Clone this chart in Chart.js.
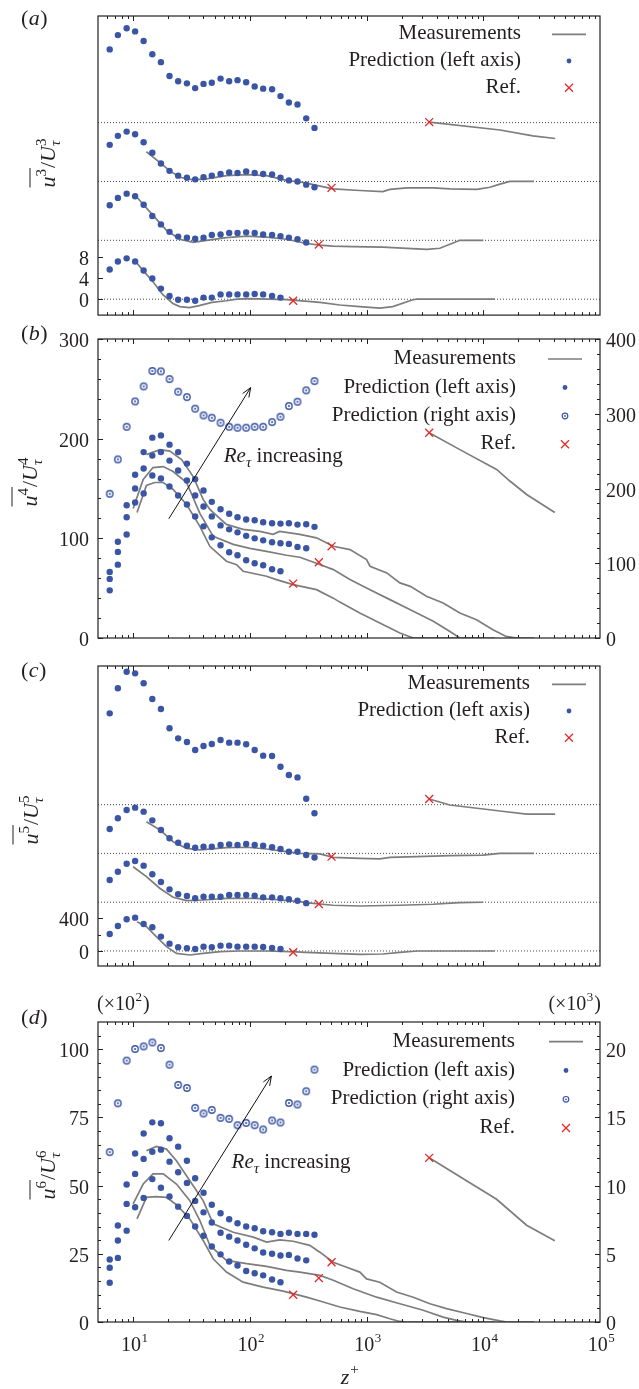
<!DOCTYPE html>
<html><head><meta charset="utf-8">
<script src="https://cdn.jsdelivr.net/npm/chart.js@4.4.1/dist/chart.umd.min.js"></script>
<style>
html,body{margin:0;padding:0;background:#fff;}
#wrap{position:relative;width:639px;height:1389px;background:#fff;overflow:hidden}
#wrap canvas{position:absolute;left:0}
</style></head><body>
<div id="wrap">
<canvas id="cA" width="639" height="322" style="top:0px"></canvas>
<canvas id="cB" width="639" height="328" style="top:322px"></canvas>
<canvas id="cC" width="639" height="330" style="top:650px"></canvas>
<canvas id="cD" width="639" height="409" style="top:980px"></canvas>
</div>
<script>
// ---------------- DATA ----------------
const zPred = [6.3, 7.4, 8.8, 10.4, 12.3, 14.6, 17.3, 20.5, 24.3, 28.9, 34.0, 40.1, 47.2, 56.1, 66.5, 78.4, 93.0, 110, 130, 155, 183, 216, 256, 304, 358];
const zRef = [235, 390, 501, 3440];

// (a) third moment, curves shifted by offsets
const aOffsets = [0, 11.1, 22.2, 33.3];
const aPred0 = [5.6, 7.1, 7.7, 7.1, 5.4, 3.9, 2.0, 0.6, -0.1, -0.1, -0.3, 0.3, 0.3, 0.9, 0.9, 0.9, 0.9, 1.0, 0.9, 0.6, 0.3];
const aPred1 = [6.6, 8.0, 8.8, 8.3, 6.7, 4.6, 3.0, 1.6, 0.7, 0.5, 0.3, 0.5, 1.0, 1.1, 1.4, 1.4, 1.5, 1.4, 1.1, 1.0, 0.8, 0.5, 0.2, -0.4];
const aPred2 = [6.9, 8.6, 9.4, 8.9, 7.4, 5.4, 3.4, 2.0, 1.1, 0.7, 0.4, 0.8, 1.1, 1.4, 1.7, 1.6, 1.9, 1.6, 1.4, 1.3, 0.7, 0.2, 0.0, -0.6, -1.1];
const aPred3 = [13.8, 16.5, 17.8, 17.2, 15.4, 12.9, 11.4, 8.8, 7.8, 7.4, 6.5, 7.3, 7.5, 8.3, 7.8, 8.0, 7.6, 6.8, 6.4, 6.3, 5.0, 3.8, 3.4, 0.8, -1.0];
const aRef = [-0.3, -0.8, -1.2, 0.1];
const aMeas0 = [[10.4,7.2],[12.3,5.3],[14.8,3.3],[17.9,0.9],[21.9,-0.8],[25.1,-1.4],[30.4,-1.6],[36.8,-1.2],[47.3,-0.6],[63,-0.3],[78,0],[100,0.1],[206,-0.1],[355,-0.5],[398,-0.6],[590,-1.1],[875,-1.4],[1298,-1.7],[1678,-1.4],[2490,-0.1],[2720,0],[12570,0]];
const aMeas1 = [[10.4,8.5],[14.8,4.7],[19.3,1.9],[25.1,0.2],[32.7,-0.4],[42.6,0.0],[63,0.5],[94,0.8],[139,0.6],[206,0.2],[306,-0.6],[398,-0.9],[514,-1.1],[763,-1.2],[1378,-1.3],[3283,-1.7],[4244,-1.5],[6300,0],[10000,0]];
const aMeas2 = [[13.0,5.6],[17.3,3.4],[20.6,2.0],[25.1,0.8],[32.7,0.3],[42.6,0.5],[63,1.1],[94,1.3],[139,1.1],[206,0.2],[268,-0.1],[306,-0.3],[514,-1.4],[875,-1.7],[1378,-1.9],[1585,-1.5],[2213,-1.2],[3700,-1.2],[5180,-1.4],[8810,-1.5],[11400,-1.1],[13900,-0.5],[16900,0],[27200,0]];
const aMeas3 = [[3440,0.1],[13900,-1.4],[26600,-2.5],[41300,-3.0]];

// (b) fourth moment
const bPred0 = [47.8, 73.6, 103.8, 136, 145, 163, 160, 152, 143, 134, 122, 112, 101, 93, 86, 83, 78, 75, 73, 69, 67];
const bPred1 = [59.3, 86.4, 121.2, 150, 170, 183, 186.5, 178, 168, 158, 143, 132, 122, 113, 109, 106, 102.5, 100, 98, 96, 95, 94.4, 91.4, 90];
const bPred2 = [66.3, 96.5, 133.2, 163.8, 186.5, 201, 203.3, 194, 186.5, 175, 159.4, 148, 136.6, 129.2, 124.6, 121.2, 118.9, 118.2, 116.2, 115.2, 114.8, 115.2, 113.8, 114.1, 111.5];
const bPredRight = [192.9, 238.9, 282.6, 316.5, 336.6, 357.2, 356.7, 346.4, 329.5, 322.3, 306.8, 297.8, 294.7, 288, 282.6, 281.3, 281.3, 282.6, 282.6, 288.8, 296, 310.3, 316.1, 331.3, 343.7];
const bRefLeft = [54.6, 76, 92];
const bRefRight = [274.6];
const bMeas0 = [[10.8,126],[13.0,153],[15.3,156],[18.1,156],[22,149],[28.7,134],[37.3,112],[45.4,92],[63,77],[77,73.6],[87.6,67],[139,62],[169,58.6],[235,53.6],[372,48.5],[519,40],[590,36],[875,25],[1298,15],[1930,5],[2510,0],[12570,0]];
const bMeas1 = [[10.0,130],[12.2,159],[14.8,171],[18.1,172],[22,167],[28.7,156],[37.3,125],[48.5,102],[72,94],[100,90],[139,87],[206,83],[268,81],[372,75],[519,68.6],[720,58.6],[1070,48.5],[1585,38.5],[2370,28.4],[3730,16.7],[5180,6.6],[6300,0],[10000,0]];
const bMeas2 = [[13.0,184],[17,189],[20.6,187.5],[26,179],[32.7,162],[39.8,139],[45.4,129],[63,114],[87.6,109],[122,107],[158,104],[180,107],[268,104],[372,100.5],[519,92],[720,88.7],[1000,78.7],[1070,72],[1490,65.3],[1930,55.3],[2370,51.8],[3260,41.8],[4530,35.2],[6300,25.1],[8750,18.4],[12100,8.3],[15700,1.6],[19300,0],[27200,0]];
const bMeas3 = [[3440,274.6],[6300,252],[13000,225.5],[16900,210],[23500,192],[41000,168]];

// (c) fifth moment, curves shifted by offsets
const cOffsets = [0, 597, 1195, 1792];
const cPred0 = [208, 306, 388, 408, 331, 290, 176, 90, 45, 33, 24, 53, 45, 65, 65, 53, 53, 53, 49, 37, 24];
const cPred1 = [272, 374, 472, 505, 448, 342, 248, 158, 97, 76, 48, 68, 68, 68, 89, 89, 89, 80, 60, 60, 48, 36, 19, -11];
const cPred2 = [299, 430, 531, 560, 511, 405, 287, 185, 131, 94, 70, 82, 82, 103, 111, 103, 115, 103, 94, 75, 54, 21, 21, -20, -50];
const cPred3 = [1118, 1425, 1628, 1608, 1486, 1294, 1171, 935, 812, 767, 669, 718, 743, 792, 759, 759, 739, 669, 600, 596, 465, 363, 334, 73, -106];
const cRef = [-16, -22, -40, 69];
const cMeas0 = [[10.8,359],[13,298],[15.8,176],[19.3,53],[23.5,-29],[30.6,-49],[39.8,-29],[56,-8],[80,0],[140,0],[250,-12],[300,-16],[514,-29],[875,-41],[1378,-37],[1930,-16],[2720,0],[12570,0]];
const cMeas1 = [[10.0,435],[13,313],[16.9,171],[22,60],[28.7,19],[40,27],[63,48],[110,48],[160,36],[268,8],[300,-5],[514,-37],[875,-46],[1930,-37],[3700,-25],[6300,-5],[10000,0]];
const cMeas2 = [[13,388],[17,287],[22,143],[28.7,62],[37.3,42],[63,70],[94,75],[139,54],[206,21],[268,1],[398,-7],[519,-48],[875,-60],[1298,-68],[1585,-48],[2680,-40],[5180,-28],[10000,-20],[13900,0],[27200,0]];
const cMeas3 = [[3440,69],[5180,-4],[13900,-78],[23500,-115],[41300,-115]];

// (d) sixth moment (left axis x10^2, right axis x10^3)
const dPred0 = [14.4, 23.5, 33.5, 42.1, 45.5, 52.4, 49.2, 46.0, 42.3, 38.9, 35.0, 31.6, 27.7, 24.8, 22.2, 20.7, 18.7, 17.9, 17.1, 15.6, 14.6];
const dPred1 = [19.9, 29.9, 43.3, 54.3, 59.8, 62.4, 63.2, 58.8, 54.9, 51.0, 44.4, 40.2, 36.5, 32.7, 31.3, 29.9, 28.3, 27.0, 25.5, 25.0, 24.4, 24.6, 23.3, 22.6];
const dPred2 = [22.9, 35.4, 50.4, 61.8, 69.1, 73.2, 72.9, 67.4, 64.3, 59.1, 52.7, 47.4, 43.0, 39.9, 37.7, 36.2, 35.0, 34.4, 33.3, 32.9, 32.3, 32.7, 32.3, 32.3, 32.0];
const dPredRight = [12.46, 16.04, 19.17, 20.02, 20.21, 20.5, 20.09, 18.87, 17.38, 17.16, 15.7, 15.29, 15.55, 14.97, 14.9, 14.43, 14.6, 14.43, 14.12, 14.78, 14.63, 16.06, 15.95, 16.92, 18.51];
const dRefLeft = [10.0, 16.1, 21.9];
const dRefRight = [12.04];
const dMeas0 = [[10.8,37.8],[13,45.7],[15.8,46],[19.3,45.7],[23.5,43],[30.6,37.8],[39.8,29.9],[48.5,23.2],[63,18.3],[87.6,14.6],[130,12.8],[193,11.3],[306,9.1],[398,7.7],[590,5.5],[875,3.9],[1219,2.7],[1585,1.2],[1930,0.2],[2200,0],[12570,0]];
const dMeas1 = [[10,43.3],[12.2,50.6],[14.8,54.3],[18.1,54.3],[23.5,50.6],[30.6,44.5],[37.3,37.2],[45.4,28.1],[63,22.6],[94,21.4],[139,20.4],[206,18.9],[268,18.3],[398,17.1],[518,15.3],[767,12.2],[1219,9.1],[1930,6.7],[3055,4.3],[4530,1.8],[5900,0.6],[7195,0],[10000,0]];
const dMeas2 = [[13,62.8],[15.8,64.4],[19.3,63.4],[23.5,59.1],[30.6,51.8],[39.8,44.5],[48.5,36],[72,32.9],[107,31.1],[139,29.3],[180,30.1],[235,29.6],[326,28.1],[398,25.6],[518,21.9],[675,20.1],[875,18.3],[1000,15.8],[1298,14.6],[1807,11.0],[2512,9.1],[3490,6.7],[4850,4.9],[7195,3.1],[10000,1.6],[13900,0.4],[15800,0],[27200,0]];
const dMeas3 = [[3440,12.04],[13000,9.0],[23500,7.1],[41000,5.95]];

// tick labels
const aYTicks = [0, 4, 8];
const bYTicks = [0, 100, 200, 300];
const bY2Ticks = [0, 100, 200, 300, 400];
const cYTicks = [0, 400];
const dYTicks = [0, 25, 50, 75, 100];
const dY2Ticks = [0, 5, 10, 15, 20];
const xDecades = [1, 2, 3, 4, 5];

// annotation positions (data coordinates)
const bArrow = [[20.2, 119.6], [101.6, 251.2]];
const bArrowText = [59.8, 177];
const dArrow = [[20.2, 29.9], [153, 90.2]];
const dArrowText = [69.7, 56.5];

// ---------------- STYLE ----------------
const BLUE = '#3b55a5', RED = '#e62828', GREY = '#7d7d7d', INK = '#231f20';
const SERIF = '"Liberation Serif", "Times New Roman", serif';

function pts(ys, off) { return ys.map((v, i) => ({ x: zPred[i], y: v + (off || 0) })); }
function refPts(ys, idx, off) { return ys.map((v, i) => ({ x: zRef[idx[i]], y: v + ((off && off[idx[i]]) || 0) })); }
function pairs(arr, off) { return arr.map(p => ({ x: p[0], y: p[1] + (off || 0) })); }

function ringImg(r, lw, dot) {
  const c = document.createElement('canvas');
  const s = Math.ceil(2 * r + lw + 2);
  c.width = c.height = s;
  const g = c.getContext('2d');
  g.strokeStyle = BLUE; g.lineWidth = lw;
  g.beginPath(); g.arc(s / 2, s / 2, r, 0, 2 * Math.PI); g.stroke();
  g.fillStyle = BLUE; g.beginPath(); g.arc(s / 2, s / 2, dot, 0, 2 * Math.PI); g.fill();
  return c;
}
const RING = ringImg(3.2, 1.4, 1.1);

function dsLine(data, axis) { return { data, yAxisID: axis || 'y', borderColor: GREY, borderWidth: 1.7, pointRadius: 0, fill: false, tension: 0, order: 3 }; }
function dsDots(data, axis) { return { data, yAxisID: axis || 'y', showLine: false, backgroundColor: BLUE, borderWidth: 0, pointRadius: 3.2, pointStyle: 'circle', order: 2 }; }
function dsRing(data, axis) { return { data, yAxisID: axis || 'y', showLine: false, pointStyle: RING, pointRadius: 4, borderWidth: 0, order: 2 }; }
function dsRef(data, axis) { return { data, yAxisID: axis || 'y', showLine: false, pointStyle: 'crossRot', pointRadius: 5.6, borderColor: RED, borderWidth: 1.3, backgroundColor: 'rgba(0,0,0,0)', order: 1 }; }
function dsDotted(off) { return { data: [{ x: 5, y: off }, { x: 1e5, y: off }], yAxisID: 'y', borderColor: '#333', borderWidth: 0.9, borderDash: [1, 2], pointRadius: 0, fill: false, order: 4 }; }

function seg(ctx, x1, y1, x2, y2) { ctx.beginPath(); ctx.moveTo(x1, y1); ctx.lineTo(x2, y2); ctx.stroke(); }

function drawPanelLabel(ctx, x, b, letter) {
  ctx.save(); ctx.fillStyle = INK; ctx.textAlign = 'left'; ctx.textBaseline = 'alphabetic';
  ctx.font = '22px ' + SERIF; ctx.fillText('(', x, b); let w = ctx.measureText('(').width;
  ctx.font = 'italic 22px ' + SERIF; ctx.fillText(letter, x + w + 0.5, b); w += ctx.measureText(letter).width + 1;
  ctx.font = '22px ' + SERIF; ctx.fillText(')', x + w, b);
  ctx.restore();
}

function drawYTitle(ctx, cx, cy, n) {
  ctx.save(); ctx.translate(cx, cy); ctx.rotate(-Math.PI / 2);
  const big = 'italic 22px ' + SERIF, sup = '15px ' + SERIF, supI = 'italic 15px ' + SERIF, reg = '22px ' + SERIF;
  ctx.font = big; const wu = ctx.measureText('u').width, wU = ctx.measureText('U').width;
  ctx.font = sup; const wn = ctx.measureText(n).width;
  ctx.font = reg; const ws = ctx.measureText('/').width;
  ctx.font = supI; const wt = ctx.measureText('\u03c4').width;
  const W = wu + wn + 1 + ws + wU + Math.max(wn, wt);
  let x = -W / 2; const b = 7;
  ctx.fillStyle = INK; ctx.textAlign = 'left'; ctx.textBaseline = 'alphabetic';
  ctx.font = big; ctx.fillText('u', x, b); const x0 = x; x += wu;
  ctx.font = sup; ctx.fillText(n, x, b - 9); x += wn + 1;
  ctx.strokeStyle = INK; ctx.lineWidth = 1; seg(ctx, x0, b - 25, x, b - 25);
  ctx.font = reg; ctx.fillText('/', x, b); x += ws;
  ctx.font = big; ctx.fillText('U', x, b); x += wU;
  ctx.font = sup; ctx.fillText(n, x, b - 9);
  ctx.font = supI; ctx.fillText('\u03c4', x, b + 5);
  ctx.restore();
}

function drawLegend(ctx, L) {
  ctx.save(); ctx.font = '21px ' + SERIF; ctx.textAlign = 'right'; ctx.textBaseline = 'alphabetic';
  L.rows.forEach((r, i) => {
    const b = L.base[i]; ctx.fillStyle = INK; ctx.fillText(r[0], L.xt, b);
    const y = b - 5, x = L.xs;
    if (r[1] === 'line') { ctx.strokeStyle = GREY; ctx.lineWidth = 1.7; seg(ctx, x - 17, y, x + 17, y); }
    else if (r[1] === 'dot') { ctx.fillStyle = BLUE; ctx.beginPath(); ctx.arc(x, y, 2.4, 0, 2 * Math.PI); ctx.fill(); }
    else if (r[1] === 'ring') { ctx.strokeStyle = BLUE; ctx.lineWidth = 1.2; ctx.beginPath(); ctx.arc(x, y, 2.8, 0, 2 * Math.PI); ctx.stroke(); ctx.fillStyle = BLUE; ctx.beginPath(); ctx.arc(x, y, 0.9, 0, 2 * Math.PI); ctx.fill(); }
    else if (r[1] === 'x') { ctx.strokeStyle = RED; ctx.lineWidth = 1.3; seg(ctx, x - 4, y - 4, x + 4, y + 4); seg(ctx, x - 4, y + 4, x + 4, y - 4); }
  });
  ctx.restore();
}

function drawArrow(chart, A, T) {
  const ctx = chart.ctx, xs = chart.scales.x, ys = chart.scales.y;
  const x1 = xs.getPixelForValue(A[0][0]), y1 = ys.getPixelForValue(A[0][1]);
  const x2 = xs.getPixelForValue(A[1][0]), y2 = ys.getPixelForValue(A[1][1]);
  ctx.save(); ctx.strokeStyle = '#111'; ctx.lineWidth = 1;
  seg(ctx, x1, y1, x2, y2);
  const ang = Math.atan2(y2 - y1, x2 - x1), L = 10, sp = 0.38;
  seg(ctx, x2, y2, x2 - L * Math.cos(ang - sp), y2 - L * Math.sin(ang - sp));
  seg(ctx, x2, y2, x2 - L * Math.cos(ang + sp), y2 - L * Math.sin(ang + sp));
  const tx = xs.getPixelForValue(T[0]), ty = ys.getPixelForValue(T[1]);
  ctx.fillStyle = INK; ctx.textAlign = 'left'; ctx.textBaseline = 'alphabetic';
  ctx.font = 'italic 21px ' + SERIF; ctx.fillText('Re', tx, ty); let w = ctx.measureText('Re').width;
  ctx.font = 'italic 15px ' + SERIF; ctx.fillText('\u03c4', tx + w, ty + 5); w += ctx.measureText('\u03c4').width;
  ctx.font = '21px ' + SERIF; ctx.fillText(' increasing', tx + w, ty);
  ctx.restore();
}

function decor(cfg) {
  return {
    id: 'decor',
    afterDraw(chart) {
      const ctx = chart.ctx, a = chart.chartArea, xs = chart.scales.x;
      ctx.save();
      ctx.strokeStyle = INK; ctx.lineWidth = 1;
      for (let e = 0; e <= 5; e++) for (let m = 1; m <= 9; m++) {
        const v = m * Math.pow(10, e);
        if (v <= 5 || v >= 1e5) continue;
        const px = Math.round(xs.getPixelForValue(v)) + 0.5, L = m === 1 ? 5 : 3;
        seg(ctx, px, a.top, px, a.top + L); seg(ctx, px, a.bottom, px, a.bottom - L);
      }
      (cfg.yt || []).forEach(t => {
        const s = chart.scales[t.axis], left = t.axis === 'y';
        const xe = left ? a.left : a.right, dir = left ? 1 : -1;
        const mk = (v, L) => { const py = Math.round(s.getPixelForValue(v)) + 0.5; seg(ctx, xe, py, xe + dir * L, py); };
        t.major.forEach(v => mk(v, 5)); (t.minor || []).forEach(v => mk(v, 3));
        // tick labels
        ctx.fillStyle = INK; ctx.font = '20px ' + SERIF; ctx.textBaseline = 'alphabetic';
        ctx.textAlign = left ? 'right' : 'left';
        t.major.forEach(v => {
          const py = s.getPixelForValue(v);
          ctx.fillText(String(v), left ? a.left - 9 : a.right + 6, py + 8);
        });
      });
      ctx.lineWidth = 1.2; ctx.strokeRect(a.left, a.top, a.right - a.left, a.bottom - a.top);
      ctx.restore();
      if (cfg.legend) drawLegend(ctx, cfg.legend);
      if (cfg.arrow) drawArrow(chart, cfg.arrow, cfg.arrowText);
      drawPanelLabel(ctx, 21, cfg.label[1], cfg.label[0]);
      drawYTitle(ctx, cfg.title[0], cfg.title[1], cfg.title[2]);
      if (cfg.xlabels) {
        ctx.save(); ctx.fillStyle = INK; ctx.textAlign = 'left'; ctx.textBaseline = 'alphabetic';
        xDecades.forEach(e => {
          const px = xs.getPixelForValue(Math.pow(10, e));
          ctx.font = '20px ' + SERIF; const w1 = ctx.measureText('10').width;
          ctx.font = '13px ' + SERIF; const w2 = ctx.measureText(String(e)).width;
          const x0 = px - (w1 + w2) / 2 + 1;
          ctx.font = '20px ' + SERIF; ctx.fillText('10', x0, a.bottom + 29);
          ctx.font = '13px ' + SERIF; ctx.fillText(String(e), x0 + w1 + 0.5, a.bottom + 20);
        });
        const cx = (a.left + a.right) / 2;
        ctx.font = 'italic 22px ' + SERIF; const wz = ctx.measureText('z').width;
        ctx.fillText('z', cx - wz / 2 - 4, a.bottom + 62);
        ctx.font = '15px ' + SERIF; ctx.fillText('+', cx + wz / 2 - 3, a.bottom + 52);
        // multipliers
        ctx.font = '20px ' + SERIF; const t1 = '(\u00d710'; const wA = ctx.measureText(t1).width;
        ctx.fillText(t1, 97, a.top - 12); ctx.font = '13px ' + SERIF; ctx.fillText('2', 97 + wA + 0.5, a.top - 21);
        const w2b = ctx.measureText('2').width; ctx.font = '20px ' + SERIF; ctx.fillText(')', 97 + wA + w2b + 1.5, a.top - 12);
        const wP = ctx.measureText(')').width; ctx.font = '13px ' + SERIF; const w3 = ctx.measureText('3').width;
        ctx.font = '20px ' + SERIF; const right = 601;
        ctx.fillText(')', right - wP, a.top - 12);
        ctx.font = '13px ' + SERIF; ctx.fillText('3', right - wP - w3 - 1, a.top - 21);
        ctx.font = '20px ' + SERIF; ctx.fillText(t1, right - wP - w3 - 1.5 - wA, a.top - 12);
        ctx.restore();
      }
    }
  };
}

function hiddenAxis(extra) {
  return Object.assign({ grid: { display: false, drawTicks: false }, border: { display: false }, ticks: { display: false } }, extra);
}

function build(id, cfg) {
  const scales = {
    x: hiddenAxis({ type: 'logarithmic', min: 5, max: 1e5, afterFit: s => { s.height = cfg.bottom; } }),
    y: hiddenAxis({ type: 'linear', position: 'left', min: cfg.y[0], max: cfg.y[1], afterFit: s => { s.width = 98; } })
  };
  if (cfg.y2) {
    scales.y2 = hiddenAxis({ type: 'linear', position: 'right', min: cfg.y2[0], max: cfg.y2[1], afterFit: s => { s.width = 39; } });
  }
  return new Chart(document.getElementById(id), {
    type: 'line',
    data: { datasets: cfg.datasets },
    options: {
      responsive: false, animation: false, devicePixelRatio: 1,
      layout: { padding: { top: cfg.top, left: 0, right: cfg.y2 ? 0 : 39, bottom: 0 } },
      scales,
      plugins: { legend: { display: false }, tooltip: { enabled: false } }
    },
    plugins: [decor(cfg)]
  });
}

function range(a, b, st) { const r = []; for (let v = a; v <= b + 1e-9; v += st) r.push(v); return r; }

// ---- (a)
build('cA', {
  top: 16, bottom: 5, y: [-3.0, 53.4],
  datasets: [
    dsRef(refPts(aRef, [0, 1, 2, 3], aOffsets)),
    dsDots(pts(aPred0, aOffsets[0])), dsDots(pts(aPred1, aOffsets[1])), dsDots(pts(aPred2, aOffsets[2])), dsDots(pts(aPred3, aOffsets[3])),
    dsLine(pairs(aMeas0, aOffsets[0])), dsLine(pairs(aMeas1, aOffsets[1])), dsLine(pairs(aMeas2, aOffsets[2])), dsLine(pairs(aMeas3, aOffsets[3])),
    dsDotted(aOffsets[0]), dsDotted(aOffsets[1]), dsDotted(aOffsets[2]), dsDotted(aOffsets[3])
  ],
  yt: [{ axis: 'y', major: aYTicks }],
  legend: { xt: 521, xs: 569, base: [39.3, 66, 92.7], rows: [['Measurements', 'line'], ['Prediction (left axis)', 'dot'], ['Ref.', 'x']] },
  label: ['a', 25], title: [48, 163, '3']
});

// ---- (b)
build('cB', {
  top: 17, bottom: 12, y: [0, 300], y2: [0, 400],
  datasets: [
    dsRef(refPts(bRefLeft, [0, 1, 2])), dsRef(refPts(bRefRight, [3]), 'y2'),
    dsDots(pts(bPred0)), dsDots(pts(bPred1)), dsDots(pts(bPred2)), dsRing(pts(bPredRight), 'y2'),
    dsLine(pairs(bMeas0)), dsLine(pairs(bMeas1)), dsLine(pairs(bMeas2)), dsLine(pairs(bMeas3), 'y2')
  ],
  yt: [{ axis: 'y', major: bYTicks, minor: range(20, 280, 20) }, { axis: 'y2', major: bY2Ticks, minor: range(20, 380, 20) }],
  legend: { xt: 516, xs: 565, base: [42, 70.5, 99, 127.3], rows: [['Measurements', 'line'], ['Prediction (left axis)', 'dot'], ['Prediction (right axis)', 'ring'], ['Ref.', 'x']] },
  arrow: bArrow, arrowText: bArrowText,
  label: ['b', 18], title: [30, 160, '4']
});

// ---- (c)
build('cC', {
  top: 16, bottom: 14, y: [-184, 3490],
  datasets: [
    dsRef(refPts(cRef, [0, 1, 2, 3], cOffsets)),
    dsDots(pts(cPred0, cOffsets[0])), dsDots(pts(cPred1, cOffsets[1])), dsDots(pts(cPred2, cOffsets[2])), dsDots(pts(cPred3, cOffsets[3])),
    dsLine(pairs(cMeas0, cOffsets[0])), dsLine(pairs(cMeas1, cOffsets[1])), dsLine(pairs(cMeas2, cOffsets[2])), dsLine(pairs(cMeas3, cOffsets[3])),
    dsDotted(cOffsets[0]), dsDotted(cOffsets[1]), dsDotted(cOffsets[2]), dsDotted(cOffsets[3])
  ],
  yt: [{ axis: 'y', major: cYTicks, minor: [200] }],
  legend: { xt: 530, xs: 569, base: [39.3, 66, 92.7], rows: [['Measurements', 'line'], ['Prediction (left axis)', 'dot'], ['Ref.', 'x']] },
  label: ['c', 27], title: [31, 170, '5']
});

// ---- (d)
build('cD', {
  top: 42, bottom: 67, y: [0, 110], y2: [0, 22],
  datasets: [
    dsRef(refPts(dRefLeft, [0, 1, 2])), dsRef(refPts(dRefRight, [3]), 'y2'),
    dsDots(pts(dPred0)), dsDots(pts(dPred1)), dsDots(pts(dPred2)), dsRing(pts(dPredRight), 'y2'),
    dsLine(pairs(dMeas0)), dsLine(pairs(dMeas1)), dsLine(pairs(dMeas2)), dsLine(pairs(dMeas3), 'y2')
  ],
  yt: [{ axis: 'y', major: dYTicks, minor: range(5, 105, 5) }, { axis: 'y2', major: dY2Ticks, minor: range(1, 21, 1) }],
  legend: { xt: 515, xs: 566, base: [66.7, 95.5, 124.3, 153], rows: [['Measurements', 'line'], ['Prediction (left axis)', 'dot'], ['Prediction (right axis)', 'ring'], ['Ref.', 'x']] },
  arrow: dArrow, arrowText: dArrowText,
  label: ['d', 44], title: [48, 195, '6'], xlabels: true
});
</script>
</body></html>
